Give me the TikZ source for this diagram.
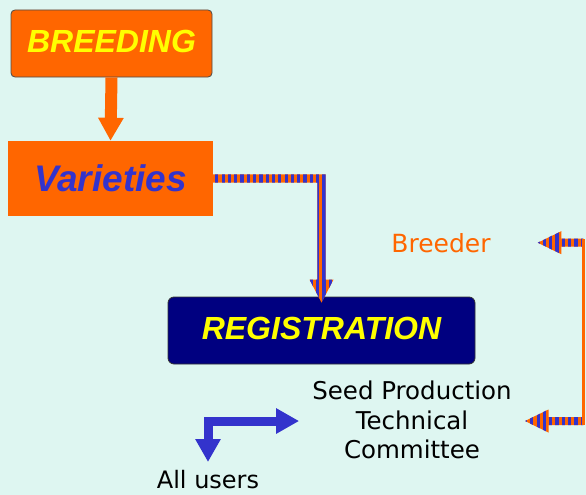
\documentclass[tikz,border=0pt]{standalone}
\usepackage{fontspec}
\setmainfont{DejaVu Sans}
\newfontfamily\boldsans{Liberation Sans}
\usetikzlibrary{arrows.meta,calc}

\definecolor{bgmint}{RGB}{222,246,241}
\definecolor{flame}{RGB}{255,102,0}
\definecolor{indigo}{RGB}{51,51,204}
\definecolor{deepnavy}{RGB}{0,0,128}
\definecolor{lemon}{RGB}{255,255,0}

% fill a closed path with orange and blue vertical stripes
\newcommand\stripefill[1]{%
  \begin{scope}
    \clip #1;
    \fill[flame] (0,0) rectangle (586,495);
    \foreach \k in {0,...,98} \fill[indigo] (\k*6.3+1,0) rectangle (\k*6.3+4.2,495);
  \end{scope}}

% striped arrow pointing left: #1 = right end of shaft, #2 = tip
\newcommand\leftstripe[2]{%
  \stripefill{($(#1)+(0,-4)$) -- ($(#2)+(23.5,-4)$) -- ($(#2)+(23.5,-11.5)$) -- (#2)
    -- ($(#2)+(23.5,11.5)$) -- ($(#2)+(23.5,4)$) -- ($(#1)+(0,4)$) -- cycle}}

\tikzset{
  headbox/.style={inner sep=0pt, text=lemon,
    font={\boldsans\bfseries\itshape\fontsize{32}{36}\selectfont}},
  plainlabel/.style={inner sep=0pt, font={\fontsize{24.5}{29.5}\selectfont}},
  bigtip/.tip={Triangle[width=24pt,length=23pt]},
}

\begin{document}
\begin{tikzpicture}[x=1pt,y=-1pt]
\fill[bgmint] (0,0) rectangle (586,495);
\useasboundingbox (0,0) rectangle (586,495);

% boxes
\node[headbox, fill=flame, draw=black!70, line width=0.8pt, rounded corners=4pt,
      text depth=4pt, minimum width=201pt, minimum height=67pt] (breed) at (111.5,43.5) {BREEDING};
\node[headbox, fill=flame, text=indigo, font={\boldsans\bfseries\itshape\fontsize{37}{40}\selectfont},
      minimum width=205pt, minimum height=75pt] (var) at (110.5,178.5) {Varieties};
\node[headbox, fill=deepnavy, draw=black!80, line width=0.8pt, rounded corners=6pt,
      text depth=4pt, minimum width=307pt, minimum height=67pt] (reg) at (321.5,330.5) {REGISTRATION};

% plain labels
\node[plainlabel, align=center] (spc) at (412,420) {Seed Production\\Technical\\Committee};
\node[plainlabel, anchor=north, font={\fontsize{24}{28}\selectfont}] (users) at (208,470) {All users};
\node[plainlabel, text=flame, font={\fontsize{25}{28}\selectfont}] (breeder) at (441,243) {Breeder};

% breeding -> varieties
\draw[flame, line width=12pt, -{bigtip}] (breed.south) -- (var.north);

% varieties -> registration (striped, bent)
\coordinate (corner) at (reg.north |- var.east);
\stripefill{($(var.east)+(0,-4.2)$) -- ($(corner)+(4.2,-4.2)$) -- ($(reg.north)+(4.2,-17)$)
  -- ($(reg.north)+(12,-17)$) -- ($(reg.north)+(0,6)$) -- ($(reg.north)+(-12,-17)$)
  -- ($(reg.north)+(-4.2,-17)$) -- ($(corner)+(-4.2,4.2)$) -- ($(var.east)+(0,4.2)$) -- cycle}

% right-hand feed to breeder and committee
\coordinate (rt) at (583.3,242.7);
\coordinate (rb) at (583.3,421);
\coordinate (btip) at ($(breeder.east)+(47,-0.3)$);
\coordinate (stip) at ($(spc.east -| 525,0)+(0,1)$);
\leftstripe{rt}{btip}
\leftstripe{rb}{stip}
\draw[flame, line width=3pt, shorten <=-3.7pt, shorten >=-4pt] (rt) -- (rb);

% committee <-> all users
\draw[indigo, line width=9pt, line join=miter, {bigtip}-{bigtip}]
  ($(users.north)+(0,-8)$) |- ($(spc.west |- rb)+(-13,0)$);
\end{tikzpicture}
\end{document}
